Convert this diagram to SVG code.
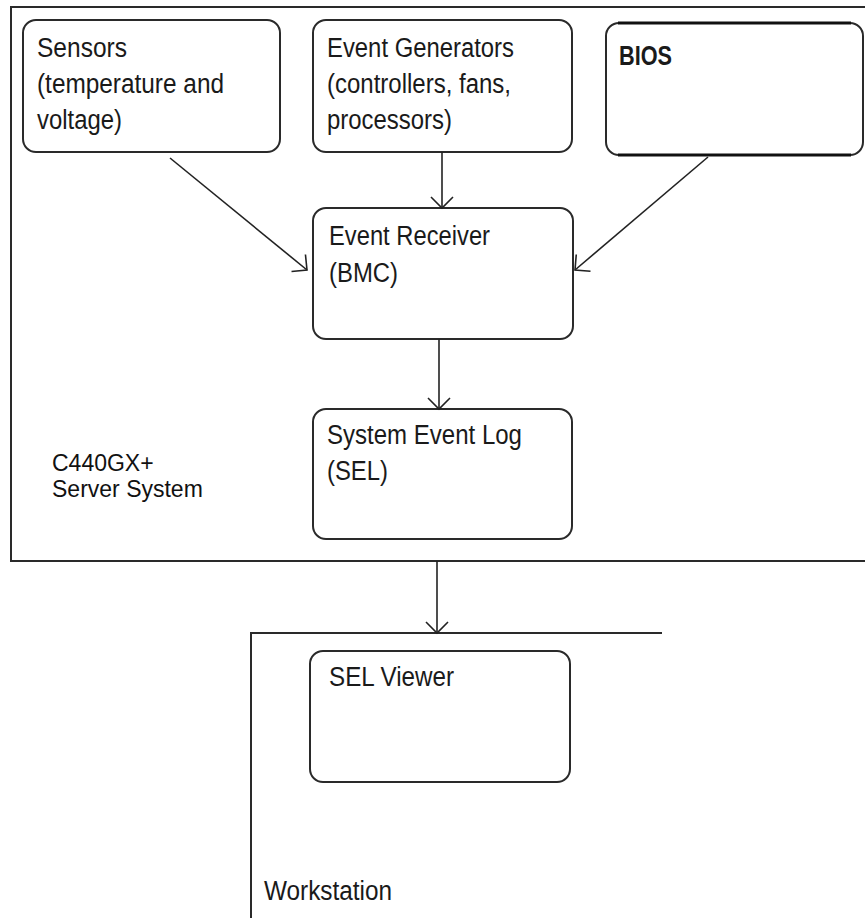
<svg xmlns="http://www.w3.org/2000/svg" width="865" height="918" viewBox="0 0 865 918">
<style>
.frame{fill:none;stroke:#2a2a2a;stroke-width:2}
.node{fill:#fff;stroke:#2a2a2a;stroke-width:2}
.t{font-family:"Liberation Sans",Arial,sans-serif;font-size:27px;fill:#1a1a1a}
.lbl{font-family:"Liberation Sans",Arial,sans-serif;font-size:23px;fill:#111}
.conn{fill:none;stroke:#222;stroke-width:1.6}
</style>
<defs>
<marker id="arr" markerUnits="userSpaceOnUse" markerWidth="30" markerHeight="30" viewBox="-15 -15 30 30" refX="0" refY="0" orient="auto">
<path d="M-11,-11 L0,0 L-11,11" fill="none" stroke="#222" stroke-width="1.6"/>
</marker>
</defs>
<rect width="865" height="918" fill="#fff"/>
<g id="server-system">
<path class="frame" d="M870,7 H11 V561 H870"/>
<text class="lbl" x="52" y="471">C440GX+</text>
<text class="lbl" x="52" y="497">Server System</text>
</g>
<g id="workstation">
<path class="frame" d="M251,920 V633 H662" stroke-width="3"/>
<text class="t" x="264" y="900" textLength="128" lengthAdjust="spacingAndGlyphs">Workstation</text>
</g>
<g id="sensors">
<rect class="node" x="23" y="20" width="257" height="132" rx="13"/>
<text class="t" x="37" y="57" textLength="90" lengthAdjust="spacingAndGlyphs">Sensors</text>
<text class="t" x="37" y="93" textLength="187" lengthAdjust="spacingAndGlyphs">(temperature and</text>
<text class="t" x="37" y="129" textLength="85" lengthAdjust="spacingAndGlyphs">voltage)</text>
</g>
<g id="event-generators">
<rect class="node" x="313" y="20" width="259" height="132" rx="13"/>
<text class="t" x="327" y="57" textLength="187" lengthAdjust="spacingAndGlyphs">Event Generators</text>
<text class="t" x="327" y="93" textLength="184" lengthAdjust="spacingAndGlyphs">(controllers, fans,</text>
<text class="t" x="327" y="129" textLength="125" lengthAdjust="spacingAndGlyphs">processors)</text>
</g>
<g id="bios">
<rect class="node" x="606" y="23" width="257" height="132" rx="13"/>
<path d="M618,23 H851 M618,155 H851" stroke="#111" stroke-width="3"/>
<text class="t" x="619" y="65" font-weight="bold" font-size="25" textLength="53" lengthAdjust="spacingAndGlyphs">BIOS</text>
</g>
<g id="event-receiver">
<rect class="node" x="313" y="208" width="260" height="131" rx="13"/>
<text class="t" x="329" y="245" textLength="161" lengthAdjust="spacingAndGlyphs">Event Receiver</text>
<text class="t" x="329" y="282" textLength="69" lengthAdjust="spacingAndGlyphs">(BMC)</text>
</g>
<g id="sel">
<rect class="node" x="313" y="409" width="259" height="130" rx="13"/>
<text class="t" x="327" y="444" textLength="195" lengthAdjust="spacingAndGlyphs">System Event Log</text>
<text class="t" x="327" y="480" textLength="61" lengthAdjust="spacingAndGlyphs">(SEL)</text>
</g>
<g id="sel-viewer">
<rect class="node" x="310" y="651" width="260" height="131" rx="13"/>
<text class="t" x="329" y="686" textLength="125" lengthAdjust="spacingAndGlyphs">SEL Viewer</text>
</g>
<g id="connectors">
<line class="conn" x1="170" y1="158" x2="307" y2="270" marker-end="url(#arr)"/>
<line class="conn" x1="442" y1="152" x2="442" y2="208" marker-end="url(#arr)"/>
<line class="conn" x1="708" y1="157" x2="575" y2="270" marker-end="url(#arr)"/>
<line class="conn" x1="439" y1="339" x2="439" y2="409" marker-end="url(#arr)"/>
<line class="conn" x1="437" y1="561" x2="437" y2="633" marker-end="url(#arr)"/>
</g>
</svg>
